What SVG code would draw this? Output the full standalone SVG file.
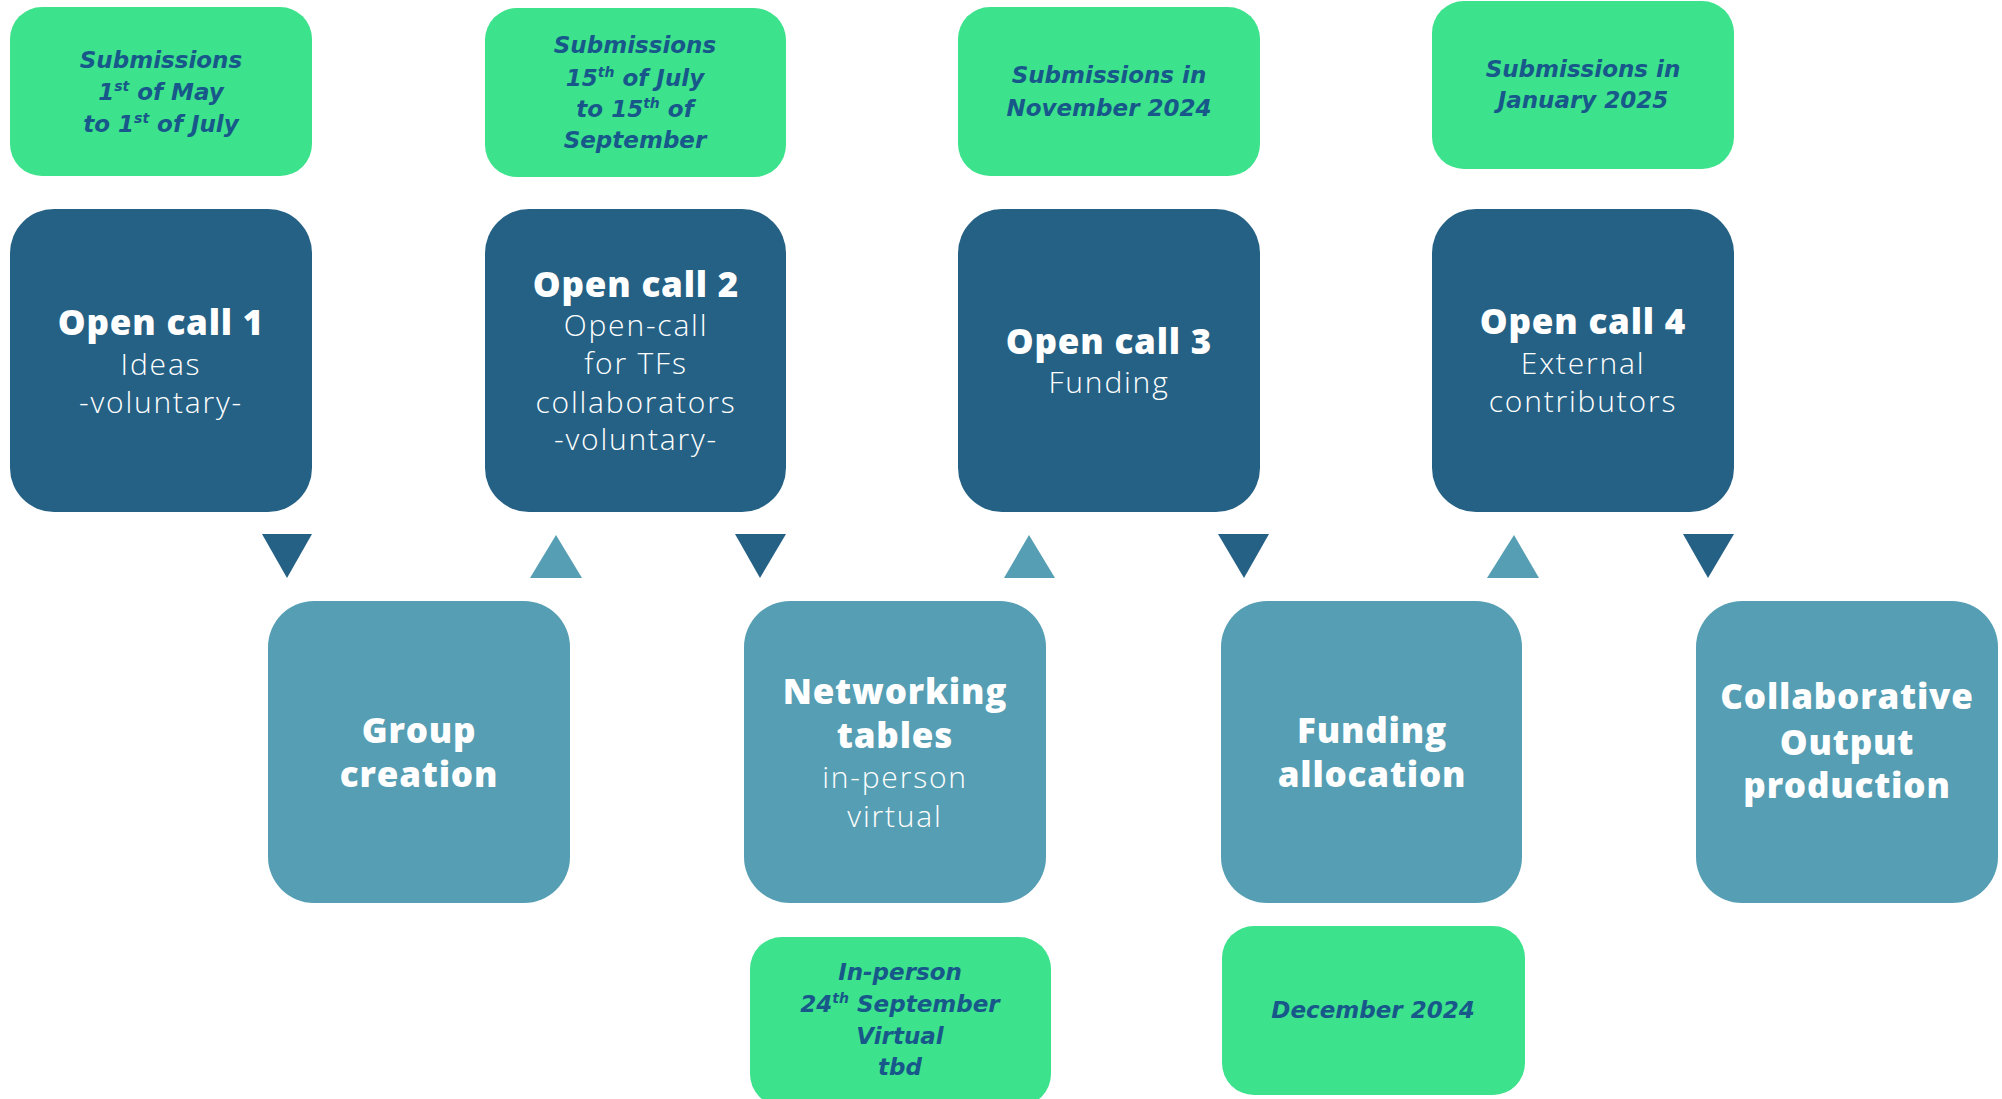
<svg xmlns="http://www.w3.org/2000/svg" width="2002" height="1099" viewBox="0 0 2002 1099">
<style>
.dark{fill:#256185}
.light{fill:#569eb3}
.green{fill:#3de28c}
.h{font-family:"Open Sans","Liberation Sans",sans-serif;font-weight:800;font-size:35px;letter-spacing:0.8px;fill:#ffffff;text-anchor:middle}
.r{font-family:"Open Sans","Liberation Sans",sans-serif;font-weight:300;font-size:30px;letter-spacing:1.8px;fill:#ffffff;text-anchor:middle}
.g{font-family:"DejaVu Sans","Liberation Sans",sans-serif;font-weight:700;font-style:italic;font-size:23px;fill:#17578a;text-anchor:middle}
.sup{font-size:14px}
.tri-d{fill:#256185}
.tri-u{fill:#569eb3}
</style>
<rect width="2002" height="1099" fill="#ffffff"/>

<g id="connectors">
<polygon class="tri-d" points="262,534 312,534 287,578"/>
<polygon class="tri-u" points="530,578 582,578 556,535"/>
<polygon class="tri-d" points="735,534 786,534 760,578"/>
<polygon class="tri-u" points="1004,578 1055,578 1029,535"/>
<polygon class="tri-d" points="1218,534 1269,534 1244,578"/>
<polygon class="tri-u" points="1487,578 1539,578 1514,535"/>
<polygon class="tri-d" points="1683,534 1734,534 1708,578"/>
</g>

<g id="sub1">
<rect class="green" x="10" y="7" width="302" height="169" rx="32"/>
<text class="g" x="161" y="68">Submissions</text>
<text class="g" x="161" y="100">1<tspan class="sup" dy="-9">st</tspan><tspan dy="9"> of May</tspan></text>
<text class="g" x="161" y="132">to 1<tspan class="sup" dy="-9">st</tspan><tspan dy="9"> of July</tspan></text>
</g>
<g id="sub2">
<rect class="green" x="485" y="8" width="301" height="169" rx="32"/>
<text class="g" x="635" y="53">Submissions</text>
<text class="g" x="635" y="86">15<tspan class="sup" dy="-9">th</tspan><tspan dy="9"> of July</tspan></text>
<text class="g" x="635" y="117">to 15<tspan class="sup" dy="-9">th</tspan><tspan dy="9"> of</tspan></text>
<text class="g" x="635" y="148">September</text>
</g>
<g id="sub3">
<rect class="green" x="958" y="7" width="302" height="169" rx="32"/>
<text class="g" x="1109" y="83">Submissions in</text>
<text class="g" x="1109" y="116">November 2024</text>
</g>
<g id="sub4">
<rect class="green" x="1432" y="1" width="302" height="168" rx="32"/>
<text class="g" x="1583" y="77">Submissions in</text>
<text class="g" x="1583" y="108">January 2025</text>
</g>

<g id="call1">
<rect class="dark" x="10" y="209" width="302" height="303" rx="44"/>
<text class="h" x="161" y="335">Open call 1</text>
<text class="r" x="161" y="375">Ideas</text>
<text class="r" x="161" y="413">-voluntary-</text>
</g>
<g id="call2">
<rect class="dark" x="485" y="209" width="301" height="303" rx="44"/>
<text class="h" x="636" y="297">Open call 2</text>
<text class="r" x="636" y="336">Open-call</text>
<text class="r" x="636" y="374">for TFs</text>
<text class="r" x="636" y="413">collaborators</text>
<text class="r" x="636" y="450">-voluntary-</text>
</g>
<g id="call3">
<rect class="dark" x="958" y="209" width="302" height="303" rx="44"/>
<text class="h" x="1109" y="354">Open call 3</text>
<text class="r" x="1109" y="393">Funding</text>
</g>
<g id="call4">
<rect class="dark" x="1432" y="209" width="302" height="303" rx="44"/>
<text class="h" x="1583" y="334">Open call 4</text>
<text class="r" x="1583" y="374">External</text>
<text class="r" x="1583" y="412">contributors</text>
</g>

<g id="group-creation">
<rect class="light" x="268" y="601" width="302" height="302" rx="46"/>
<text class="h" x="419" y="743">Group</text>
<text class="h" x="419" y="787">creation</text>
</g>
<g id="networking">
<rect class="light" x="744" y="601" width="302" height="302" rx="46"/>
<text class="h" x="895" y="704">Networking</text>
<text class="h" x="895" y="748">tables</text>
<text class="r" x="895" y="788">in-person</text>
<text class="r" x="895" y="827">virtual</text>
</g>
<g id="funding-allocation">
<rect class="light" x="1221" y="601" width="301" height="302" rx="46"/>
<text class="h" x="1372" y="743">Funding</text>
<text class="h" x="1372" y="787">allocation</text>
</g>
<g id="output">
<rect class="light" x="1696" y="601" width="302" height="302" rx="46"/>
<text class="h" x="1847" y="709">Collaborative</text>
<text class="h" x="1847" y="755">Output</text>
<text class="h" x="1847" y="798">production</text>
</g>

<g id="networking-dates">
<rect class="green" x="750" y="937" width="301" height="169" rx="32"/>
<text class="g" x="900" y="980">In-person</text>
<text class="g" x="900" y="1012">24<tspan class="sup" dy="-9">th</tspan><tspan dy="9"> September</tspan></text>
<text class="g" x="900" y="1044">Virtual</text>
<text class="g" x="900" y="1075">tbd</text>
</g>
<g id="funding-date">
<rect class="green" x="1222" y="926" width="303" height="169" rx="32"/>
<text class="g" x="1373" y="1018">December 2024</text>
</g>
</svg>
